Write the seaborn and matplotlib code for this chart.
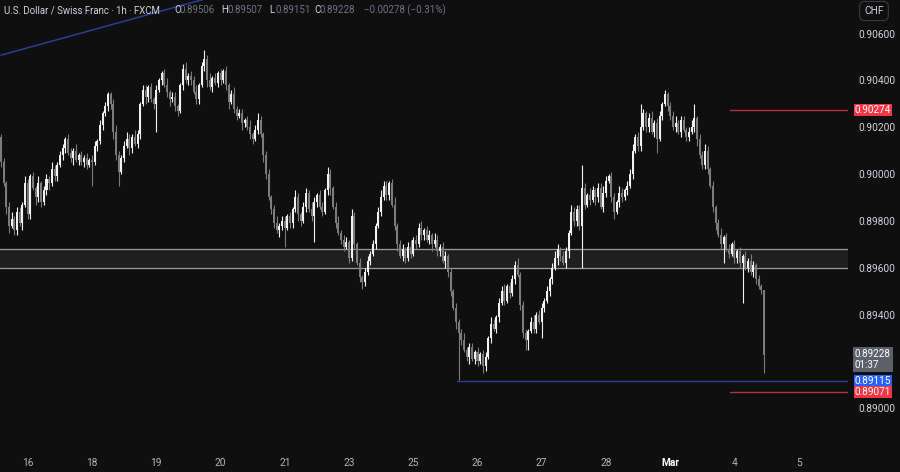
import matplotlib
matplotlib.use("Agg")
import matplotlib.pyplot as plt
import matplotlib.transforms as mtransforms
import numpy as np
import pandas as pd
import seaborn as sns

# USD/CHF 1h candles (FXCM)
first_open = 0.9016
closes = [
    0.9005, 0.8996, 0.8986, 0.8978, 0.8981, 0.8976, 0.8984, 0.8979, 0.8987, 0.8996, 0.8983, 0.8999,
    0.8994, 0.8990, 0.8996, 0.8988, 0.8993, 0.8998, 0.8996, 0.9002, 0.8999, 0.9004, 0.9008, 0.9011,
    0.9015, 0.9009, 0.9007, 0.9010, 0.9006, 0.9008, 0.9005, 0.9007, 0.9004, 0.9006, 0.9005, 0.9012,
    0.9014, 0.9021, 0.9026, 0.9029, 0.9034, 0.9030, 0.9018, 0.9008, 0.9001, 0.9007, 0.9012, 0.9015,
    0.9011, 0.9016, 0.9013, 0.9017, 0.9030, 0.9036, 0.9033, 0.9037, 0.9032, 0.9030, 0.9036, 0.9040,
    0.9043, 0.9038, 0.9035, 0.9032, 0.9033, 0.9029, 0.9027, 0.9038, 0.9045, 0.9040, 0.9042, 0.9040,
    0.9035, 0.9032, 0.9038, 0.9046, 0.9049, 0.9040, 0.9037, 0.9041, 0.9039, 0.9043, 0.9040, 0.9044,
    0.9038, 0.9031, 0.9034, 0.9028, 0.9025, 0.9026, 0.9022, 0.9023, 0.9020, 0.9017, 0.9015, 0.9019,
    0.9023, 0.9017, 0.9008, 0.9000, 0.8990, 0.8985, 0.8979, 0.8976, 0.8978, 0.8980, 0.8977, 0.8982,
    0.8979, 0.8985, 0.8990, 0.8983, 0.8980, 0.8986, 0.8992, 0.8985, 0.8982, 0.8988, 0.8991, 0.8986,
    0.8984, 0.8993, 0.9000, 0.8994, 0.8986, 0.8979, 0.8975, 0.8972, 0.8969, 0.8971, 0.8964, 0.8982,
    0.8970, 0.8962, 0.8956, 0.8954, 0.8958, 0.8963, 0.8966, 0.8970, 0.8978, 0.8984, 0.8990, 0.8995,
    0.8991, 0.8996, 0.8987, 0.8978, 0.8970, 0.8965, 0.8968, 0.8964, 0.8969, 0.8966, 0.8972, 0.8970,
    0.8977, 0.8974, 0.8976, 0.8972, 0.8974, 0.8970, 0.8972, 0.8967, 0.8969, 0.8963, 0.8965, 0.8958,
    0.8950, 0.8943, 0.8937, 0.8932, 0.8929, 0.8925, 0.8922, 0.8926, 0.8921, 0.8924, 0.8920, 0.8923,
    0.8918, 0.8922, 0.8930, 0.8936, 0.8934, 0.8939, 0.8945, 0.8950, 0.8946, 0.8952, 0.8949, 0.8955,
    0.8961, 0.8957, 0.8944, 0.8932, 0.8929, 0.8933, 0.8937, 0.8934, 0.8940, 0.8937, 0.8943, 0.8946,
    0.8950, 0.8955, 0.8960, 0.8964, 0.8968, 0.8965, 0.8962, 0.8967, 0.8975, 0.8984, 0.8980, 0.8985,
    0.8978, 0.8994, 0.8987, 0.8991, 0.8989, 0.8993, 0.8990, 0.8994, 0.8986, 0.8992, 0.8997, 0.8999,
    0.8990, 0.8984, 0.8988, 0.8992, 0.8990, 0.8993, 0.8995, 0.9000, 0.9010, 0.9016, 0.9012, 0.9020,
    0.9026, 0.9020, 0.9024, 0.9018, 0.9022, 0.9015, 0.9025, 0.9030, 0.9034, 0.9029, 0.9025, 0.9020,
    0.9022, 0.9018, 0.9023, 0.9019, 0.9016, 0.9018, 0.9020, 0.9024, 0.9015, 0.9008, 0.9004, 0.9010,
    0.9002, 0.8995, 0.8986, 0.8979, 0.8974, 0.8970, 0.8973, 0.8968, 0.8966, 0.8970, 0.8964, 0.8967,
    0.8962, 0.8965, 0.8960, 0.8963, 0.8958, 0.8961, 0.8955, 0.8952, 0.89506, 0.89228,
]
# wick lengths above / below the body, in pips
wick_up = [
    1, 2, 1, 2, 3, 1, 2, 2, 1, 3, 2, 1,
    2, 1, 3, 1, 2, 2, 1, 3, 2, 1, 2, 2,
    1, 2, 2, 1, 3, 1, 2, 1, 2, 1, 2, 2,
    1, 2, 1, 2, 1, 1, 2, 3, 2, 1, 2, 3,
    2, 1, 3, 2, 1, 2, 2, 1, 2, 1, 2, 1,
    1, 2, 3, 1, 2, 2, 1, 1, 2, 3, 1, 2,
    2, 3, 1, 2, 4, 2, 3, 1, 2, 1, 2, 1,
    2, 1, 2, 3, 1, 2, 2, 1, 2, 3, 1, 2,
    3, 2, 1, 2, 2, 1, 2, 3, 1, 2, 2, 1,
    2, 1, 3, 2, 1, 2, 2, 1, 3, 2, 1, 2,
    2, 1, 3, 2, 1, 2, 3, 1, 2, 2, 1, 3,
    2, 1, 2, 1, 2, 2, 1, 2, 1, 2, 3, 2,
    2, 1, 2, 3, 1, 2, 2, 1, 2, 3, 1, 2,
    2, 3, 1, 2, 2, 1, 3, 2, 1, 2, 2, 1,
    2, 1, 2, 1, 2, 3, 1, 2, 2, 1, 2, 1,
    2, 2, 1, 3, 2, 1, 2, 2, 3, 1, 2, 2,
    2, 3, 1, 2, 2, 1, 2, 3, 1, 2, 2, 1,
    2, 1, 2, 3, 2, 1, 2, 2, 1, 3, 2, 2,
    2, 10, 2, 1, 3, 2, 1, 2, 2, 3, 2, 1,
    2, 2, 1, 3, 2, 1, 2, 2, 3, 1, 2, 10,
    2, 1, 2, 3, 1, 2, 2, 1, 2, 1, 2, 2,
    3, 1, 2, 2, 1, 2, 3, 6, 1, 2, 2, 3,
    2, 1, 2, 1, 2, 3, 1, 2, 2, 1, 2, 1,
    2, 1, 2, 1, 3, 2, 1, 2, 1, 0.1,
]
wick_dn = [
    2, 1, 3, 3, 1, 2, 2, 1, 3, 1, 2, 2,
    1, 3, 2, 2, 1, 2, 3, 1, 2, 2, 1, 2,
    2, 1, 2, 3, 1, 2, 1, 2, 2, 1, 10, 1,
    2, 1, 2, 1, 2, 2, 3, 2, 6, 1, 2, 1,
    3, 2, 1, 2, 2, 1, 3, 2, 1, 2, 12, 1,
    2, 1, 2, 3, 1, 2, 2, 1, 2, 1, 2, 2,
    1, 2, 2, 1, 2, 3, 1, 2, 1, 2, 2, 1,
    2, 3, 1, 2, 2, 1, 3, 2, 1, 2, 2, 1,
    2, 1, 3, 2, 1, 2, 2, 1, 3, 2, 8, 1,
    2, 2, 1, 3, 2, 1, 2, 1, 2, 11, 2, 1,
    2, 1, 2, 3, 1, 2, 1, 2, 2, 1, 2, 1,
    2, 1, 2, 3, 2, 1, 2, 1, 2, 1, 2, 1,
    2, 2, 1, 2, 3, 1, 2, 2, 1, 2, 1, 2,
    1, 2, 2, 1, 2, 3, 1, 2, 2, 1, 3, 2,
    2, 1, 3, 20, 2, 1, 2, 3, 1, 2, 2, 1,
    3, 2, 1, 2, 1, 2, 2, 1, 2, 1, 2, 1,
    2, 1, 2, 2, 4, 4, 1, 2, 2, 1, 7, 2,
    1, 2, 2, 1, 3, 2, 1, 2, 3, 1, 2, 2,
    2, 18, 2, 1, 2, 1, 3, 2, 1, 2, 2, 1,
    2, 3, 1, 2, 2, 1, 2, 1, 2, 1, 2, 2,
    1, 2, 2, 1, 2, 6, 1, 2, 1, 2, 2, 1,
    2, 1, 2, 1, 2, 2, 1, 2, 3, 1, 2, 2,
    2, 1, 2, 3, 1, 2, 8, 1, 2, 1, 2, 2,
    2, 17, 1, 2, 1, 2, 2, 1, 2, 7.7,
]

day_labels = ["16", "18", "19", "20", "21", "23", "25", "26", "27", "28", "Mar", "4", "5"]
# 0.89200 is hidden behind the last-price tag in the original
price_ticks = [0.890, 0.894, 0.896, 0.898, 0.900, 0.902, 0.904, 0.906]

# drawings on the chart
zone_low, zone_high = 0.8960, 0.8968
red_levels = [0.90274, 0.89071]
blue_level = 0.89115
trend_x = [0, 80]
trend_y = [0.90508, 0.90760]
last_price, last_open, last_high, last_low = 0.89228, 0.89506, 0.89507, 0.89151
change, change_pct = -0.00278, -0.31

BG = "#0f0f0f"
UP = "#f2f2f2"
DOWN = "#7c7c7c"
TXT = "#d1d4dc"

sns.set_theme(style="dark", rc={"axes.facecolor": BG, "figure.facecolor": BG,
                                "axes.edgecolor": BG})
plt.rcParams["font.family"] = ["Roboto", "DejaVu Sans"]

df = pd.DataFrame({"close": closes, "up": wick_up, "dn": wick_dn})
df["open"] = [first_open] + closes[:-1]
df["x"] = np.arange(len(df))
body_top = df[["open", "close"]].max(axis=1)
body_bot = df[["open", "close"]].min(axis=1)
df["high"] = body_top + df["up"] * 1e-4
df["low"] = body_bot - df["dn"] * 1e-4
rising = df["close"] >= df["open"]
colors = np.where(rising, UP, DOWN)

fig = plt.figure(figsize=(9, 4.72), dpi=100)
ax = fig.add_axes([0, 24 / 472, 848 / 900, 448 / 472])
ax.set_xlim(-0.37, 316.4)
ax.set_ylim(0.888300, 0.907436)

# zone
ax.axhspan(zone_low, zone_high, color="#1f1f1f", zorder=0)
ax.axhline(zone_low, color="#9a9a9a", lw=0.9, zorder=1)
ax.axhline(zone_high, color="#9a9a9a", lw=0.9, zorder=1)

# candles
ax.vlines(df["x"], df["low"], df["high"], colors=colors, lw=0.8, zorder=3)
ax.bar(df["x"], np.maximum(body_top - body_bot, 0.00002), bottom=body_bot,
       width=0.75, color=colors, lw=0, zorder=3)

# levels
ax.plot(trend_x, trend_y, color="#2b3e8f", lw=1.1, zorder=2)
ax.plot([170.3, 316.4], [blue_level, blue_level], color="#2b3e9f", lw=1, zorder=2)
for lvl in red_levels:
    ax.plot([272.3, 316.4], [lvl, lvl], color="#b8323c", lw=1, zorder=2)

# axes / ticks
ax.set_xticks([10 + 24 * k for k in range(len(day_labels))])
ax.set_xticklabels(day_labels)
for lab in ax.get_xticklabels():
    lab.set_color("#b2b5be")
    if lab.get_text() == "Mar":
        lab.set_fontweight("bold")
        lab.set_color("#ffffff")
ax.yaxis.tick_right()
ax.set_yticks(price_ticks)
ax.set_yticklabels([f"{p:.5f}" for p in price_ticks])
ax.tick_params(axis="x", length=0, pad=7, labelsize=7.3)
ax.tick_params(axis="y", length=0, pad=7.5, labelsize=7.3, labelcolor=TXT)
ax.grid(False)
sns.despine(ax=ax, left=True, bottom=True, right=True, top=True)

# price tags on the scale
tr = mtransforms.blended_transform_factory(ax.transAxes, ax.transData)
tag_x = 1 + 7 / 848
for lvl, fc in [(red_levels[0], "#f23645"), (blue_level, "#2962ff"),
                (red_levels[1], "#f23645")]:
    ax.text(tag_x, lvl, f"{lvl:.5f}", transform=tr, ha="left", va="center",
            fontsize=7.2, color="white", zorder=6, clip_on=False,
            bbox=dict(boxstyle="square,pad=0.1", fc=fc, ec="none"))
ax.text(tag_x, last_price + 0.00025, f"{last_price:.5f}\n01:37", transform=tr,
        ha="left", va="top", fontsize=7.1, color="white", linespacing=1.1,
        zorder=5, clip_on=False,
        bbox=dict(boxstyle="square,pad=0.2", fc="#5d606b", ec="none"))

fig.text(874 / 900, 1 - 11 / 472, "CHF", ha="center", va="center", fontsize=7.3,
         color=TXT, bbox=dict(boxstyle="round,pad=0.45,rounding_size=0.5",
                              fc=BG, ec="#3a3c44", lw=0.8))

# header legend
yh = 1 - 10 / 472
fig.text(4 / 900, yh, "U.S. Dollar / Swiss Franc · 1h · FXCM", ha="left",
         va="center", fontsize=6.9, color=TXT)
parts = [(174, "O", f"{last_open:.5f}"), (221, "H", f"{last_high:.5f}"),
         (269, "L", f"{last_low:.5f}"), (314, "C", f"{last_price:.5f}")]
for px, key, val in parts:
    fig.text(px / 900, yh, key, ha="left", va="center", fontsize=7.0, color=TXT)
    fig.text((px + 6) / 900, yh, val, ha="left", va="center", fontsize=7.0,
             color="#6f7587")
fig.text(364 / 900, yh, f"−{abs(change):.5f} (−{abs(change_pct):.2f}%)",
         ha="left", va="center", fontsize=7.0, color="#6f7587")

fig.savefig("out.png", dpi=100, facecolor=BG)
